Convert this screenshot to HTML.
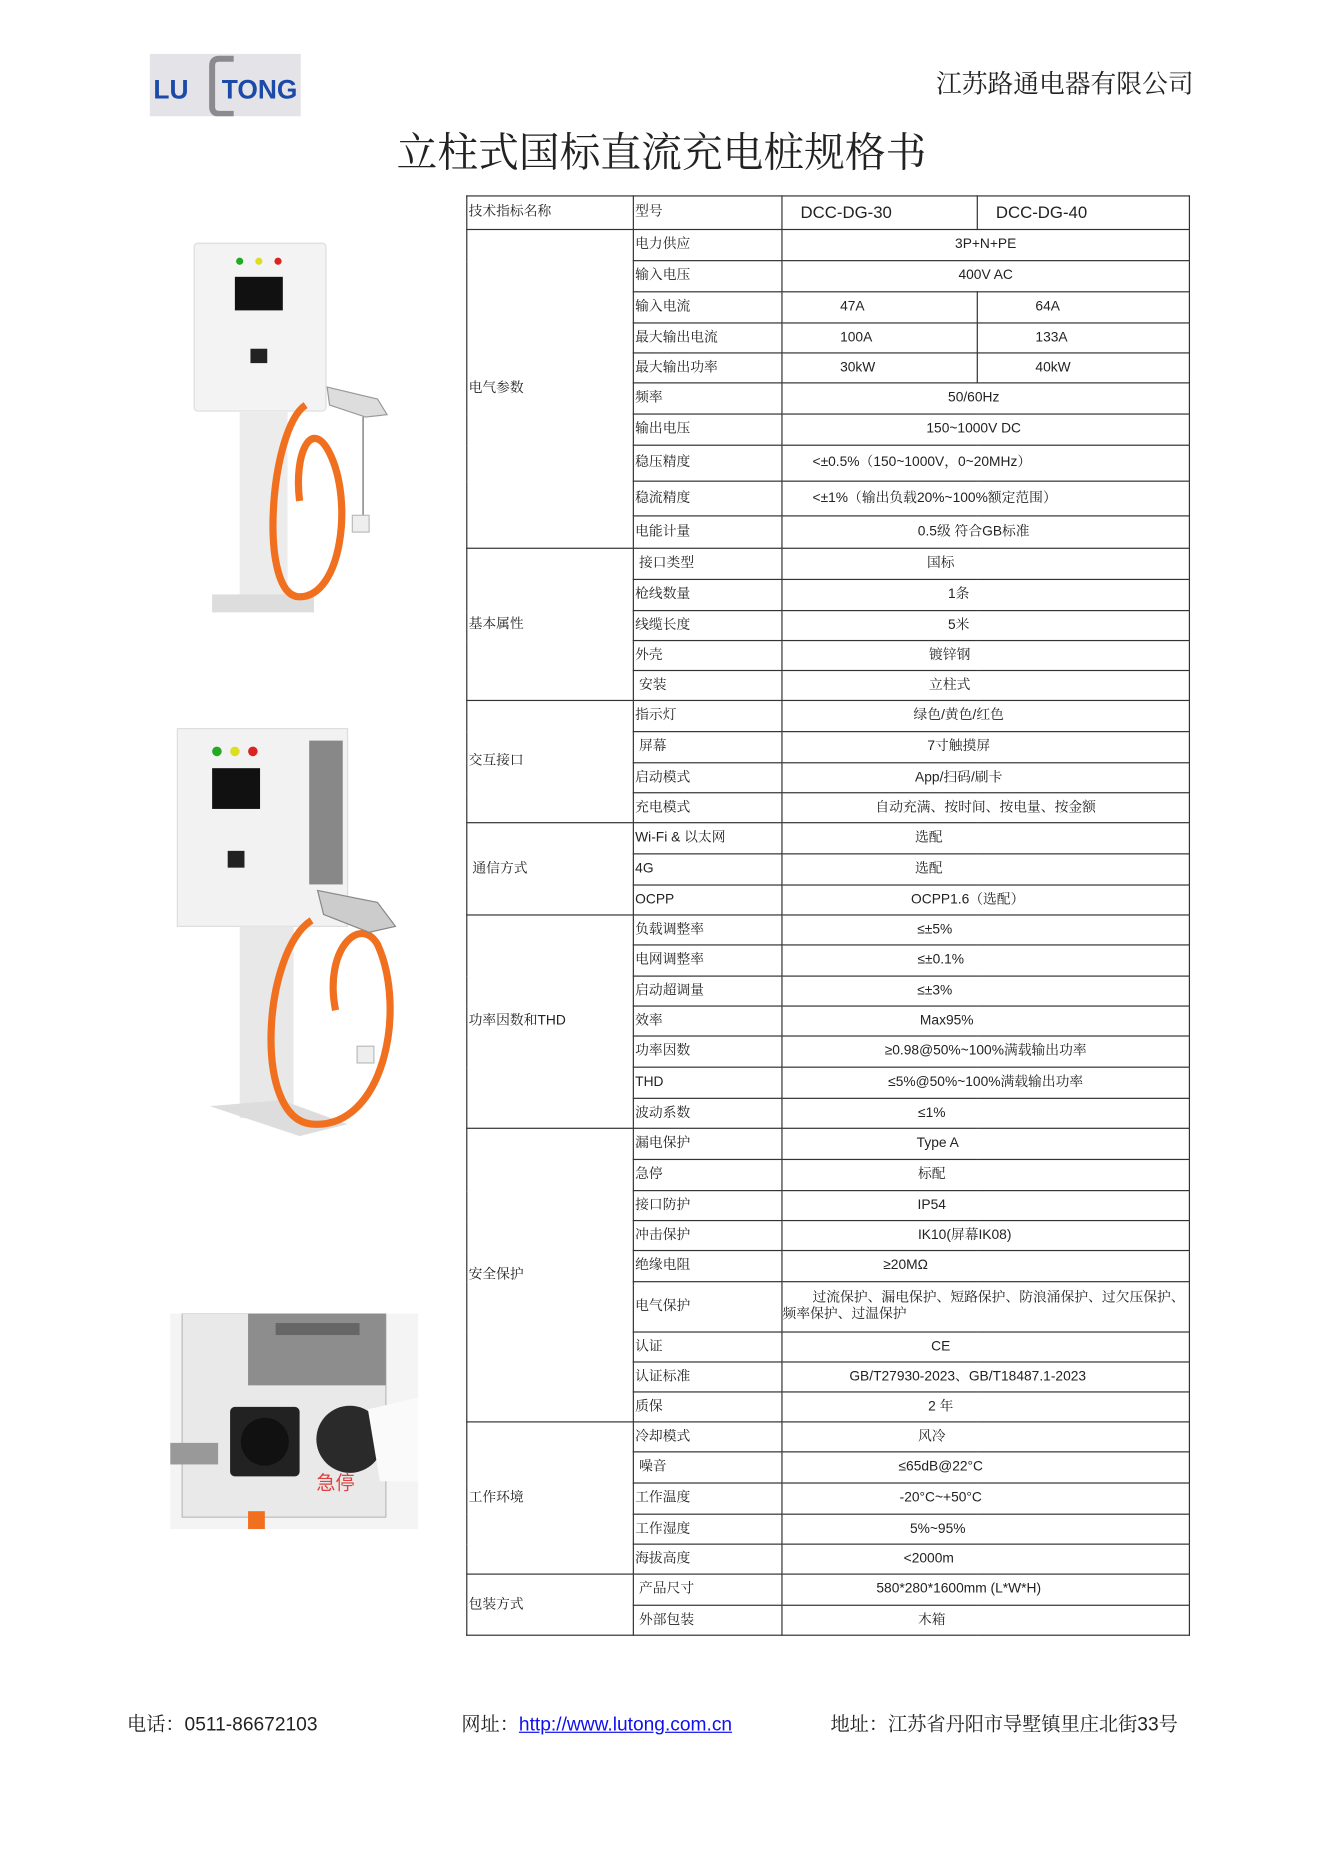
<!DOCTYPE html>
<html><head><meta charset="utf-8"><style>
html,body{margin:0;padding:0;background:#fff;}
body{width:1323px;height:1871px;overflow:hidden;position:relative;}
#w{position:absolute;left:0;top:0;width:1104px;height:1561px;transform:scale(1.1984);transform-origin:0 0;font-family:"Liberation Sans","Noto Serif CJK SC","Noto Sans CJK SC",sans-serif;color:#222;}
.a{position:absolute;white-space:nowrap;}
table{position:absolute;left:389px;top:163px;border-collapse:collapse;table-layout:fixed;width:603px;font-size:11.5px;}
td{border:1.3px solid #333;padding:0;vertical-align:middle;overflow:hidden;white-space:nowrap;line-height:1.1;}
td.g{padding-left:1px;}
td.n{padding-left:1px;}
td.v{text-align:center;}
</style></head><body><div id="w">

<div class="a" style="left:125px;top:45px;width:126px;height:52px;background:#e4e4e8;"></div>
<svg class="a" style="left:125px;top:45px" width="126" height="52">
<path d="M70 4 L58 4 Q52 4 52 10 L52 44 Q52 50 58 50 L70 50" fill="none" stroke="#8a8a90" stroke-width="5"/>
<text x="3" y="37" font-family="Liberation Sans" font-weight="bold" font-size="22" fill="#1b4aa8">LU</text>
<text x="60" y="37" font-family="Liberation Sans" font-weight="bold" font-size="22" fill="#1b4aa8">TONG</text>
</svg>
<div class="a" style="left:781px;top:53px;font-size:21.5px;font-family:'Liberation Serif','Noto Serif CJK SC',serif;">江苏路通电器有限公司</div>
<div class="a" style="left:331px;top:100px;font-size:34px;font-family:'Liberation Serif','Noto Serif CJK SC',serif;">立柱式国标直流充电桩规格书</div>

<svg class="a" style="left:155px;top:198px" width="185" height="320">
<rect x="7" y="5" width="110" height="140" rx="3" fill="#f3f3f3" stroke="#ddd"/>
<circle cx="45" cy="20" r="3" fill="#2a2"/><circle cx="61" cy="20" r="3" fill="#dd2"/><circle cx="77" cy="20" r="3" fill="#d22"/>
<rect x="41" y="33" width="40" height="28" fill="#111"/>
<rect x="54" y="93" width="14" height="12" fill="#222"/>
<rect x="45" y="145" width="40" height="160" fill="#ececec"/>
<rect x="22" y="298" width="85" height="15" fill="#ddd"/>
<path d="M100 140 C70 160 60 300 95 300 C130 300 140 220 120 180 C105 150 90 180 95 220" fill="none" stroke="#f07020" stroke-width="6"/>
<path d="M118 125 L160 135 L168 148 L150 150 L120 140Z" fill="#ddd" stroke="#999"/>
<path d="M148 150 L148 232" stroke="#999" stroke-width="1.5"/>
<rect x="139" y="232" width="14" height="14" fill="#eee" stroke="#bbb"/>
</svg>

<svg class="a" style="left:140px;top:603px" width="215" height="350">
<rect x="8" y="5" width="142" height="165" fill="#f2f2f2" stroke="#ddd"/>
<rect x="118" y="15" width="28" height="120" fill="#888"/>
<circle cx="41" cy="24" r="4" fill="#2a2"/><circle cx="56" cy="24" r="4" fill="#dd2"/><circle cx="71" cy="24" r="4" fill="#d22"/>
<rect x="37" y="38" width="40" height="34" fill="#111"/>
<rect x="50" y="107" width="14" height="14" fill="#222"/>
<rect x="60" y="170" width="45" height="160" fill="#e8e8e8"/>
<path d="M35 320 L110 345 L150 335 L95 315Z" fill="#ddd"/>
<path d="M120 165 C80 190 70 330 120 335 C180 340 200 240 175 185 C160 160 130 190 140 240" fill="none" stroke="#f07020" stroke-width="6"/>
<path d="M125 140 L175 150 L190 170 L168 175 L130 160Z" fill="#ccc" stroke="#888"/>
<rect x="158" y="270" width="14" height="14" fill="#eee" stroke="#bbb"/>
</svg>

<svg class="a" style="left:142px;top:1096px" width="207" height="180">
<rect x="0" y="0" width="207" height="180" fill="#f4f4f4"/>
<rect x="10" y="0" width="170" height="170" fill="#e9e9e9" stroke="#bbb"/>
<rect x="65" y="0" width="115" height="60" fill="#8d8d8d"/>
<rect x="88" y="8" width="70" height="10" fill="#666"/>
<rect x="0" y="108" width="40" height="18" fill="#999"/>
<rect x="50" y="78" width="58" height="58" rx="4" fill="#222"/>
<circle cx="79" cy="107" r="20" fill="#111"/>
<circle cx="150" cy="105" r="28" fill="#2a2a2a"/>
<path d="M165 80 L207 70 L207 140 L175 140Z" fill="#fafafa"/>
<text x="122" y="147" font-size="16" fill="#e04040" font-family="Noto Sans CJK SC">急停</text>
<rect x="65" y="165" width="14" height="15" fill="#f07020"/>
</svg>

<table>
<colgroup><col style="width:139px"><col style="width:124px"><col style="width:163px"><col style="width:177px"></colgroup>
<tr style="height:28px"><td class="g">技术指标名称</td><td class="n">型号</td><td style="padding-left:15px;font-size:14px;font-family:'Liberation Sans',sans-serif">DCC-DG-30</td><td style="padding-left:15px;font-size:14px">DCC-DG-40</td></tr>
<tr style="height:26px"><td class="g" rowspan="10">电气参数</td><td class="n">电力供应</td><td class="v" colspan="2">3P+N+PE</td></tr>
<tr style="height:26px"><td class="n">输入电压</td><td class="v" colspan="2">400V AC</td></tr>
<tr style="height:26px"><td class="n">输入电流</td><td style="padding-left:48px">47A</td><td style="padding-left:48px">64A</td></tr>
<tr style="height:25px"><td class="n">最大输出电流</td><td style="padding-left:48px">100A</td><td style="padding-left:48px">133A</td></tr>
<tr style="height:25px"><td class="n">最大输出功率</td><td style="padding-left:48px">30kW</td><td style="padding-left:48px">40kW</td></tr>
<tr style="height:26px"><td class="n">频率</td><td class="v" colspan="2" style="padding-right:20px">50/60Hz</td></tr>
<tr style="height:26px"><td class="n">输出电压</td><td class="v" colspan="2" style="padding-right:20px">150~1000V DC</td></tr>
<tr style="height:30px"><td class="n">稳压精度</td><td colspan="2" style="padding-left:25px">&lt;±0.5%（150~1000V，0~20MHz）</td></tr>
<tr style="height:29px"><td class="n">稳流精度</td><td colspan="2" style="padding-left:25px">&lt;±1%（输出负载20%~100%额定范围）</td></tr>
<tr style="height:27px"><td class="n">电能计量</td><td class="v" colspan="2" style="padding-right:20px">0.5级 符合GB标准</td></tr>
<tr style="height:26px"><td class="g" rowspan="5">基本属性</td><td class="n">&nbsp;接口类型</td><td class="v" colspan="2" style="padding-right:75px">国标</td></tr>
<tr style="height:26px"><td class="n">枪线数量</td><td class="v" colspan="2" style="padding-right:45px">1条</td></tr>
<tr style="height:25px"><td class="n">线缆长度</td><td class="v" colspan="2" style="padding-right:45px">5米</td></tr>
<tr style="height:25px"><td class="n">外壳</td><td class="v" colspan="2" style="padding-right:60px">镀锌钢</td></tr>
<tr style="height:25px"><td class="n">&nbsp;安装</td><td class="v" colspan="2" style="padding-right:60px">立柱式</td></tr>
<tr style="height:26px"><td class="g" rowspan="4">交互接口</td><td class="n">指示灯</td><td class="v" colspan="2" style="padding-right:45px">绿色/黄色/红色</td></tr>
<tr style="height:26px"><td class="n">&nbsp;屏幕</td><td class="v" colspan="2" style="padding-right:45px">7寸触摸屏</td></tr>
<tr style="height:25px"><td class="n">启动模式</td><td class="v" colspan="2" style="padding-right:45px">App/扫码/刷卡</td></tr>
<tr style="height:25px"><td class="n">充电模式</td><td class="v" colspan="2">自动充满、按时间、按电量、按金额</td></tr>
<tr style="height:26px"><td class="g" rowspan="3">&nbsp;通信方式</td><td class="n">Wi-Fi &amp; 以太网</td><td class="v" colspan="2" style="padding-right:95px">选配</td></tr>
<tr style="height:26px"><td class="n">4G</td><td class="v" colspan="2" style="padding-right:95px">选配</td></tr>
<tr style="height:25px"><td class="n">OCPP</td><td class="v" colspan="2" style="padding-right:30px">OCPP1.6（选配）</td></tr>
<tr style="height:25px"><td class="g" rowspan="7">功率因数和THD</td><td class="n">负载调整率</td><td class="v" colspan="2" style="padding-right:85px">≤±5%</td></tr>
<tr style="height:26px"><td class="n">电网调整率</td><td class="v" colspan="2" style="padding-right:75px">≤±0.1%</td></tr>
<tr style="height:25px"><td class="n">启动超调量</td><td class="v" colspan="2" style="padding-right:85px">≤±3%</td></tr>
<tr style="height:25px"><td class="n">效率</td><td class="v" colspan="2" style="padding-right:65px">Max95%</td></tr>
<tr style="height:26px"><td class="n">功率因数</td><td class="v" colspan="2">≥0.98@50%~100%满载输出功率</td></tr>
<tr style="height:26px"><td class="n">THD</td><td class="v" colspan="2">≤5%@50%~100%满载输出功率</td></tr>
<tr style="height:25px"><td class="n">波动系数</td><td class="v" colspan="2" style="padding-right:90px">≤1%</td></tr>
<tr style="height:26px"><td class="g" rowspan="9">安全保护</td><td class="n">漏电保护</td><td class="v" colspan="2" style="padding-right:80px">Type A</td></tr>
<tr style="height:26px"><td class="n">急停</td><td class="v" colspan="2" style="padding-right:90px">标配</td></tr>
<tr style="height:25px"><td class="n">接口防护</td><td class="v" colspan="2" style="padding-right:90px">IP54</td></tr>
<tr style="height:25px"><td class="n">冲击保护</td><td class="v" colspan="2" style="padding-right:35px">IK10(屏幕IK08)</td></tr>
<tr style="height:26px"><td class="n">绝缘电阻</td><td colspan="2" style="padding-left:84px">≥20MΩ</td></tr>
<tr style="height:42px"><td class="n">电气保护</td><td colspan="2" style="white-space:normal;line-height:1.15;padding-left:0;text-indent:25px">过流保护、漏电保护、短路保护、防浪涌保护、过欠压保护、频率保护、过温保护</td></tr>
<tr style="height:25px"><td class="n">认证</td><td class="v" colspan="2" style="padding-right:75px">CE</td></tr>
<tr style="height:25px"><td class="n">认证标准</td><td class="v" colspan="2" style="padding-right:30px">GB/T27930-2023、GB/T18487.1-2023</td></tr>
<tr style="height:25px"><td class="n">质保</td><td class="v" colspan="2" style="padding-right:75px">2 年</td></tr>
<tr style="height:25px"><td class="g" rowspan="5">工作环境</td><td class="n">冷却模式</td><td class="v" colspan="2" style="padding-right:90px">风冷</td></tr>
<tr style="height:26px"><td class="n">&nbsp;噪音</td><td class="v" colspan="2" style="padding-right:75px">≤65dB@22°C</td></tr>
<tr style="height:26px"><td class="n">工作温度</td><td class="v" colspan="2" style="padding-right:75px">-20°C~+50°C</td></tr>
<tr style="height:25px"><td class="n">工作湿度</td><td class="v" colspan="2" style="padding-right:80px">5%~95%</td></tr>
<tr style="height:25px"><td class="n">海拔高度</td><td class="v" colspan="2" style="padding-right:95px">&lt;2000m</td></tr>
<tr style="height:26px"><td class="g" rowspan="2">包装方式</td><td class="n">&nbsp;产品尺寸</td><td class="v" colspan="2" style="padding-right:45px">580*280*1600mm (L*W*H)</td></tr>
<tr style="height:25px"><td class="n">&nbsp;外部包装</td><td class="v" colspan="2" style="padding-right:90px">木箱</td></tr>
</table>

<div class="a" style="left:106px;top:1426px;font-size:16px;">电话：0511-86672103</div>
<div class="a" style="left:385px;top:1426px;font-size:16px;">网址：<span style="color:#1010ee;text-decoration:underline">http://www.lutong.com.cn</span></div>
<div class="a" style="left:693px;top:1426px;font-size:16px;">地址：江苏省丹阳市导墅镇里庄北街33号</div>
</div></body></html>
